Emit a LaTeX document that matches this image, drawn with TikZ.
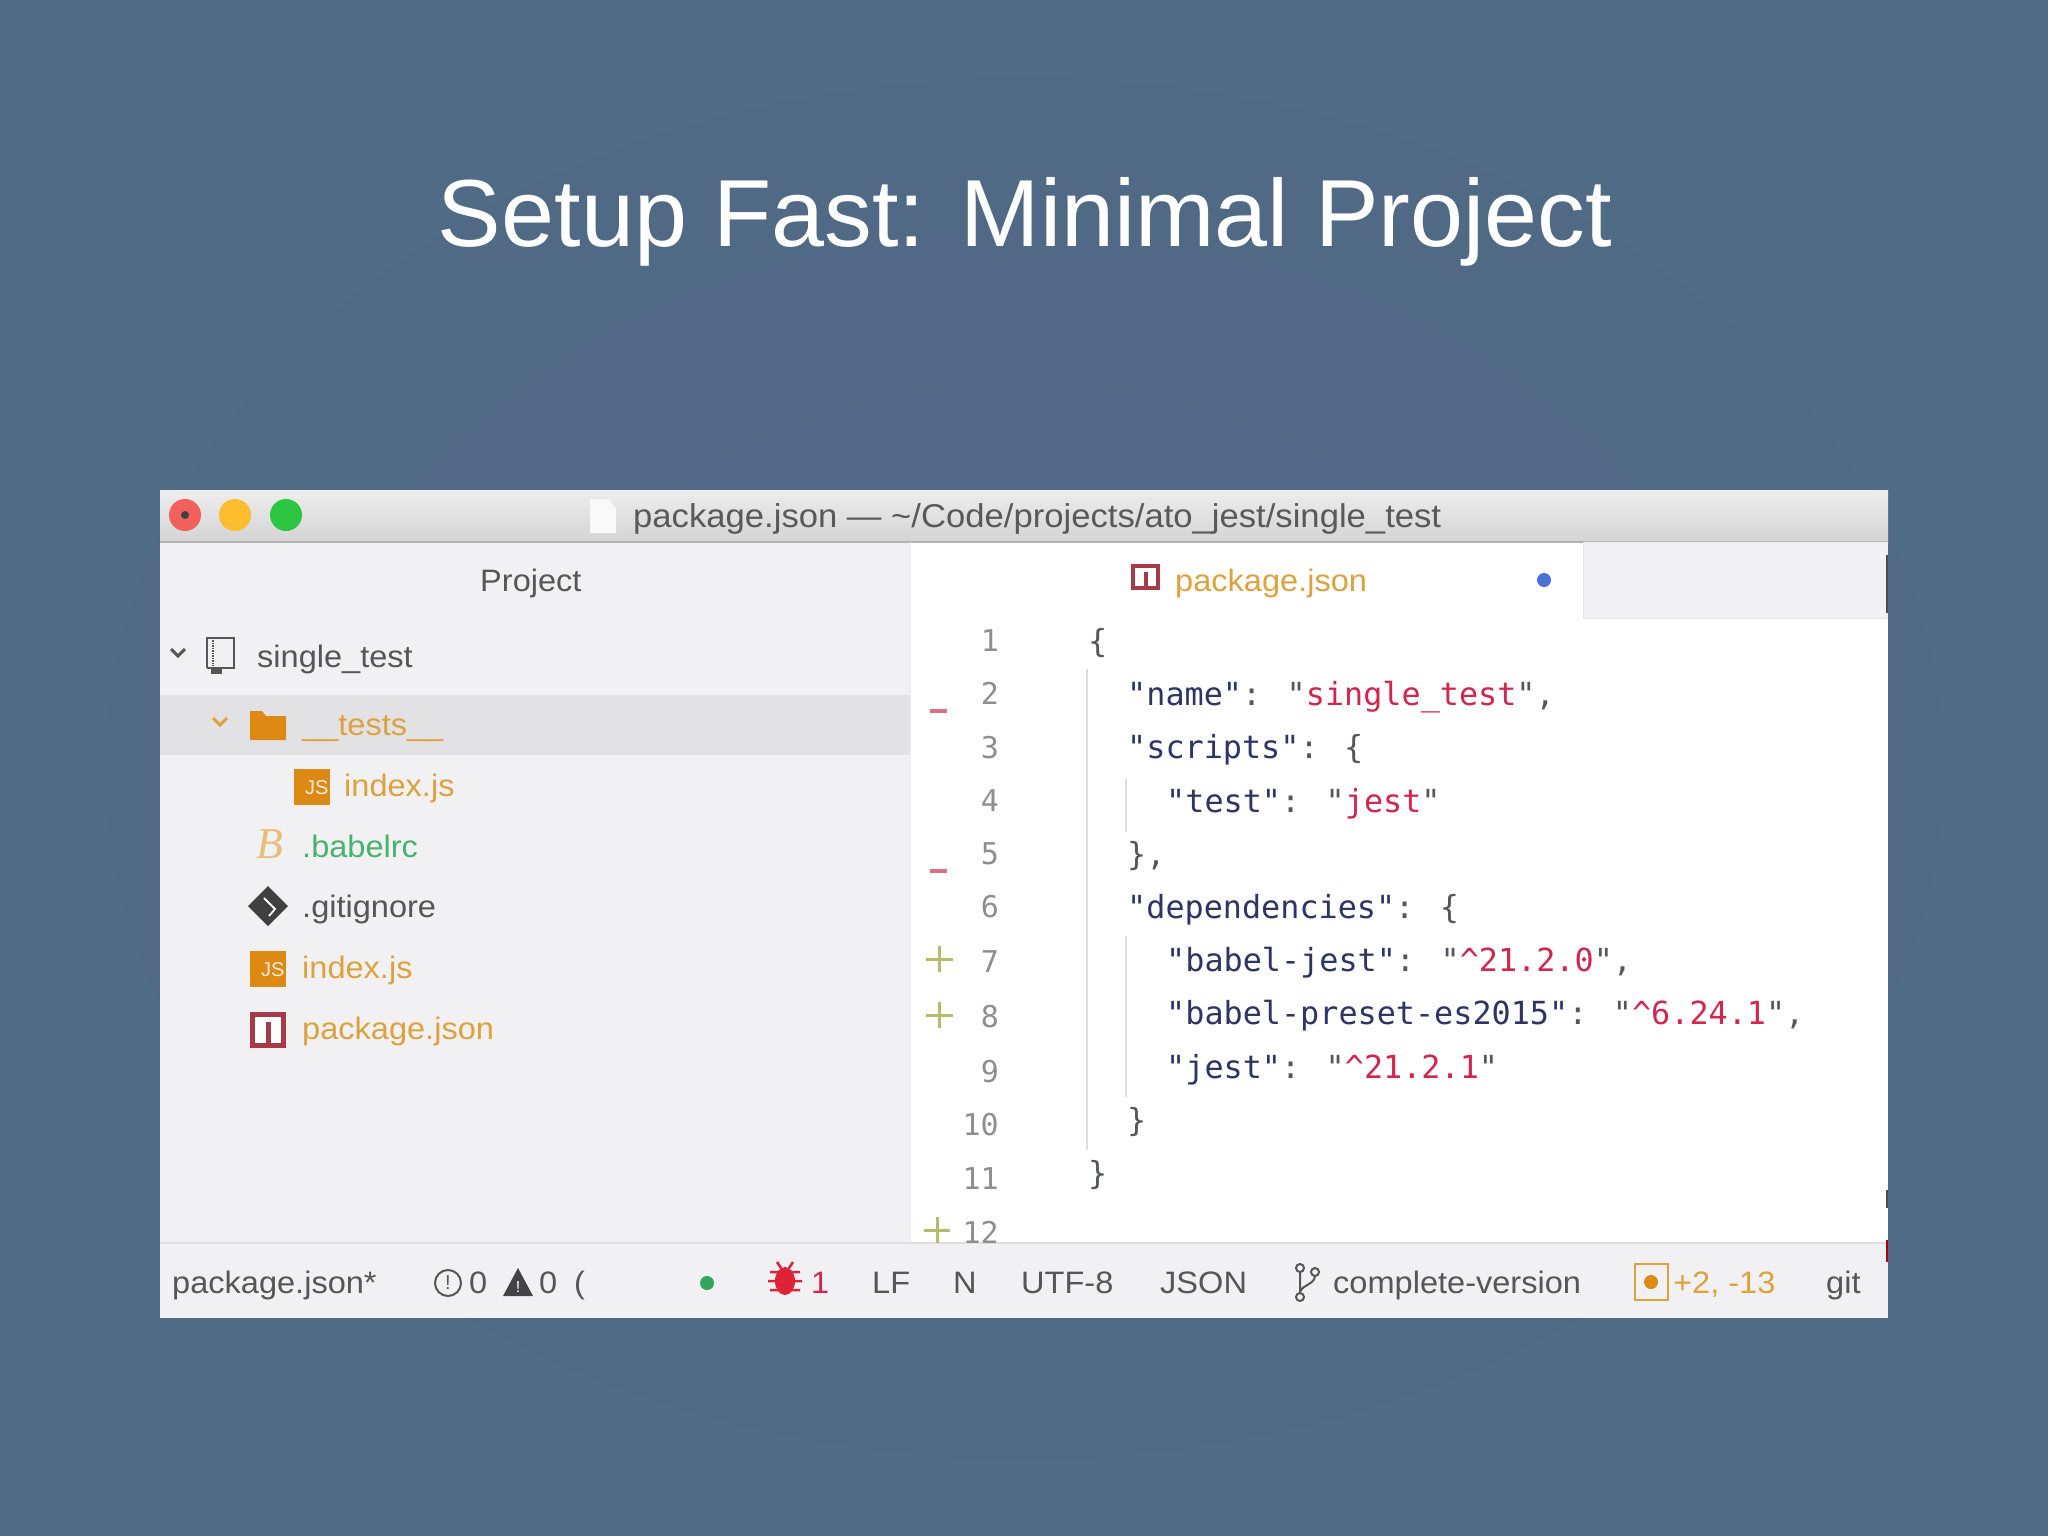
\documentclass[tikz,border=0pt]{standalone}
\usepackage{fontspec}
\setmainfont{Liberation Sans}
\newfontfamily\uifont{Liberation Sans}[FakeStretch=1.05]
\newfontfamily\codefont{DejaVu Sans Mono}
\newfontfamily\babelfont{Liberation Serif}
\definecolor{slidebg}{HTML}{4F6B85}
\definecolor{slidemid}{HTML}{54668A}
\definecolor{panelbg}{HTML}{F1F1F3}
\definecolor{rowbg}{HTML}{E2E2E4}
\definecolor{uitext}{HTML}{55555A}
\definecolor{orangetxt}{HTML}{DDA23E}
\definecolor{orangeicon}{HTML}{DC8A14}
\definecolor{babelgreen}{HTML}{48B36C}
\definecolor{npmred}{HTML}{A83A48}
\definecolor{keycol}{HTML}{2E3566}
\definecolor{strcol}{HTML}{D2264F}
\definecolor{puncol}{HTML}{55565C}
\definecolor{gutcol}{HTML}{8E8E92}
\definecolor{guide}{HTML}{DEDEE0}
\definecolor{addcol}{HTML}{B5BC6B}
\definecolor{delcol}{HTML}{DD6F80}
\definecolor{lightred}{HTML}{F2605C}
\definecolor{lightyellow}{HTML}{FBBC2E}
\definecolor{lightgreen}{HTML}{2CC641}
\definecolor{dotblue}{HTML}{4A72D4}
\definecolor{dotgreen}{HTML}{2FA85C}
\definecolor{bugred}{HTML}{DE2238}
\definecolor{bartop}{HTML}{EDEDED}
\definecolor{barbot}{HTML}{D4D4D4}
\newcommand{\KK}[1]{\textcolor{keycol}{#1}}
\newcommand{\SV}[1]{\textcolor{strcol}{#1}}
\tikzset{
  ui/.style={anchor=base west,inner sep=0pt,text=uitext,font=\uifont\fontsize{31}{36}\selectfont},
  uio/.style={ui,text=orangetxt},
  codeline/.style={anchor=base west,inner sep=0pt,text=puncol,font=\codefont\fontsize{31.8}{38}\selectfont},
  gutter/.style={anchor=base east,inner sep=0pt,text=gutcol,font=\codefont\fontsize{30}{36}\selectfont},
  jsicon/.style={fill=orangeicon,draw=none,minimum width=36pt,minimum height=36pt,inner sep=0pt,text=white!85!orangeicon,font=\fontsize{20}{20}\selectfont,align=right},
  guideline/.style={draw=guide,line width=1.5pt},
  addmark/.style={draw=addcol,line width=3pt},
  delmark/.style={draw=delcol,line width=3.5pt},
}
\begin{document}
\begin{tikzpicture}[x=1pt,y=-1pt]
\useasboundingbox (0,0) rectangle (2048,1536);
\shade[inner color=slidemid,outer color=slidebg] (0,0) rectangle (2048,1536);
% title
\node[anchor=base,inner sep=0pt,text=white,font=\fontsize{95.3}{100}\selectfont] (title) at (1025,246) {Setup Fast: Minimal Project};
% window
\fill[panelbg] (160,490) rectangle (1888,1318);
\fill[white] (910,542) rectangle (1888,1243);
\fill[top color=bartop,bottom color=barbot] (160,490) rectangle (1888,542);
\draw[gray!60,line width=1.5pt] (160,542) -- (1888,542);
\fill[panelbg] (1583,542) rectangle (1888,618);
\draw[gray!20,line width=1pt] (1583,542) -- (1583,618) -- (1888,618);
\draw[gray!15,line width=1pt] (910,542) -- (910,1243);
\fill[rowbg] (160,695) rectangle (910,755);
\fill[panelbg] (160,1243) rectangle (1888,1318);
\draw[gray!25,line width=1.5pt] (160,1243) -- (1888,1243);
% scrollbar slivers at the right edge
\fill[black!70] (1886,555) rectangle (1888,613);
\fill[black!70] (1886,1190) rectangle (1888,1208);
\fill[red!70!black] (1886,1240) rectangle (1888,1262);
% traffic lights
\fill[lightred] (185,515) circle (16);
\fill[black!75] (185,515) circle (4);
\fill[lightyellow] (235,515) circle (16);
\fill[lightgreen] (286,515) circle (16);
% title doc icon
\fill[white!95!gray] (590,499) -- (608,499) -- (616,508) -- (616,533) -- (590,533) -- cycle;
\node[ui,text=black!65,font=\uifont\fontsize{33}{38}\selectfont] (wtitle) at (633,527) {package.json — \textasciitilde/Code/projects/ato\_jest/single\_test};
% project
\node[ui] (project) at (480,591) {Project};
% tree
\draw[uitext,line width=3pt] (171,649) -- (178,656) -- (185,649);
\draw[uitext,line width=2.5pt] (207,668) -- (207,638) -- (234,638) -- (234,668) -- (207,668);
\draw[uitext,line width=1.5pt,densely dotted] (213,640) -- (213,666);
\fill[uitext] (211,668) rectangle (222,674);
\node[ui] (root) at (257,667) {single\_test};
\draw[orangetxt,line width=3pt] (213,718) -- (220,725) -- (227,718);
\fill[orangeicon] (250,714) -- (250,711) -- (262,711) -- (266,716) -- (286,716) -- (286,740) -- (250,740) -- cycle;
\node[uio] (tests) at (302,735) {\_\_tests\_\_};
\node[jsicon,anchor=north west] (js1) at (294,769) {\raisebox{-9pt}{\hspace{9pt}JS}};
\node[uio] (idx1) at (344,796) {index.js};
\node[anchor=center,inner sep=0pt,text=orangetxt!70!white,font=\babelfont\itshape\fontsize{44}{44}\selectfont] (babelb) at (270,844) {B};
\node[ui,text=babelgreen] (babel) at (302,857) {.babelrc};
\fill[black!75] (268,886) -- (288,906) -- (268,926) -- (248,906) -- cycle;
\draw[white,line width=1.8pt] (264,898) -- (275,909) -- (269,916);
\node[ui] (gitig) at (302,917) {.gitignore};
\node[jsicon,anchor=north west] (js2) at (250,951) {\raisebox{-9pt}{\hspace{9pt}JS}};
\node[uio] (idx2) at (302,978) {index.js};
\fill[npmred] (250,1012) rectangle (286,1048);
\fill[white] (255,1017) rectangle (281,1043);
\fill[npmred] (266,1022) rectangle (271,1043);
\node[uio] (pkg) at (302,1039) {package.json};
% tab
\fill[npmred] (1131,564) rectangle (1160,590);
\fill[white] (1135,568) rectangle (1156,586);
\fill[npmred] (1144,572) rectangle (1148,586);
\node[uio] (tabtext) at (1175,591) {package.json};
\fill[dotblue] (1544,580) circle (7);
% guides
\draw[guideline] (1087,669) -- (1087,1150);
\draw[guideline] (1126,779) -- (1126,832);
\draw[guideline] (1126,936) -- (1126,1097);
% gutter numbers
\node[gutter] (n1) at (999,651) {1};
\node[gutter] (n2) at (999,704) {2};
\node[gutter] (n3) at (999,758) {3};
\node[gutter] (n4) at (999,811) {4};
\node[gutter] (n5) at (999,864) {5};
\node[gutter] (n6) at (999,917) {6};
\node[gutter] (n7) at (999,972) {7};
\node[gutter] (n8) at (999,1027) {8};
\node[gutter] (n9) at (999,1082) {9};
\node[gutter] (n10) at (999,1135) {10};
\node[gutter] (n11) at (999,1189) {11};
\begin{scope}
\clip (910,1200) rectangle (1888,1243);
\node[gutter] (n12) at (999,1243) {12};
\end{scope}
% gutter marks
\draw[delmark] (930,711) -- (947,711);
\draw[delmark] (930,871) -- (947,871);
\draw[addmark] (926,959) -- (953,959) (939,946) -- (939,972);
\draw[addmark] (926,1015) -- (953,1015) (939,1002) -- (939,1028);
\draw[addmark] (924,1230) -- (950,1230) (937,1217) -- (937,1243);
% code
\node[codeline] (c1) at (1088,652) {\{};
\node[codeline] (c2) at (1127,705) {\KK{"name"}: "\SV{single\_test}",};
\node[codeline] (c3) at (1127,758) {\KK{"scripts"}: \{};
\node[codeline] (c4) at (1166,812) {\KK{"test"}: "\SV{jest}"};
\node[codeline] (c5) at (1127,865) {\},};
\node[codeline] (c6) at (1127,918) {\KK{"dependencies"}: \{};
\node[codeline] (c7) at (1166,971) {\KK{"babel-jest"}: "\SV{\textasciicircum 21.2.0}",};
\node[codeline] (c8) at (1166,1024) {\KK{"babel-preset-es2015"}: "\SV{\textasciicircum 6.24.1}",};
\node[codeline] (c9) at (1166,1078) {\KK{"jest"}: "\SV{\textasciicircum 21.2.1}"};
\node[codeline] (c10) at (1127,1131) {\}};
\node[codeline] (c11) at (1088,1184) {\}};
% status bar
\node[ui] (s1) at (172,1293) {package.json*};
\draw[uitext,line width=2pt] (448,1283) circle (13);
\node[anchor=center,inner sep=0pt,text=uitext,font=\fontsize{20}{20}\selectfont] (s2i) at (448,1283) {!};
\node[ui] (s2) at (469,1293) {0};
\fill[uitext!80!black] (518,1268) -- (533,1296) -- (503,1296) -- cycle;
\node[anchor=center,inner sep=0pt,text=white,font=\fontsize{16}{16}\selectfont] (s3i) at (518,1287) {!};
\node[ui] (s3) at (539,1293) {0};
\node[ui] (s4) at (574,1293) {(};
\fill[dotgreen] (707,1283) circle (7);
% bug
\fill[bugred] (785,1281) ellipse (10 and 14);
\draw[bugred,line width=2.5pt] (770,1272) -- (800,1272) (768,1281) -- (802,1281) (770,1290) -- (800,1290) (777,1262) -- (781,1268) (793,1262) -- (789,1268);
\node[ui,text=strcol] (s5) at (811,1293) {1};
\node[ui] (s6) at (872,1293) {LF};
\node[ui] (s7) at (953,1293) {N};
\node[ui] (s8) at (1021,1293) {UTF-8};
\node[ui] (s9) at (1160,1293) {JSON};
% branch
\draw[uitext,line width=2pt] (1300,1268) circle (4) (1300,1297) circle (4) (1315,1272) circle (4);
\draw[uitext,line width=2pt] (1300,1272) -- (1300,1293) (1315,1276) .. controls (1314,1285) and (1303,1284) .. (1300,1292);
\node[ui] (s10) at (1333,1293) {complete-version};
\draw[orangetxt,line width=2.5pt] (1635,1264) rectangle (1668,1300);
\fill[orangeicon] (1651,1282) circle (7);
\node[ui,text=orangetxt] (s11) at (1673,1293) {+2, -13};
\node[ui] (s12) at (1826,1293) {git};
\end{tikzpicture}
\end{document}
